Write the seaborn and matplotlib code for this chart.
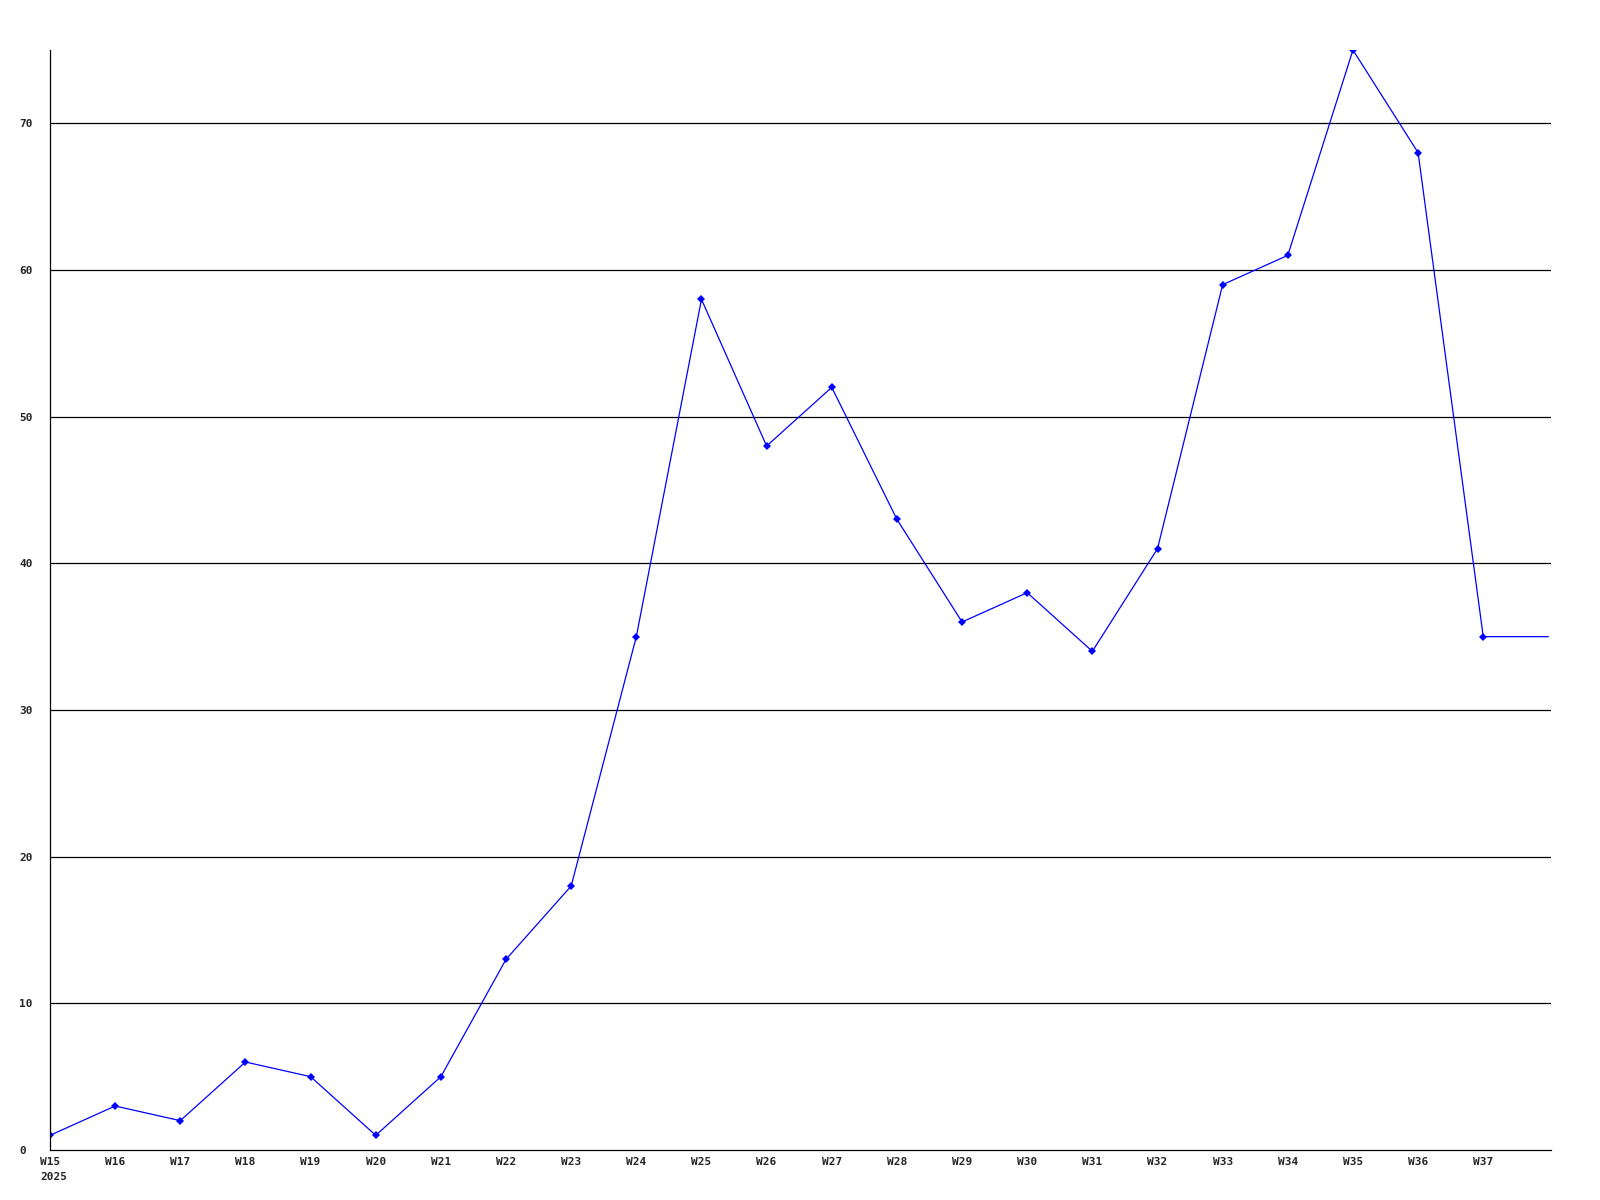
import pandas as pd
import matplotlib
matplotlib.use("Agg")
import matplotlib.pyplot as plt
import seaborn as sns

# weekly counts (W38 is the partial week running to the right edge)
weeks = [15, 16, 17, 18, 19, 20, 21, 22, 23, 24, 25, 26, 27, 28, 29, 30, 31,
         32, 33, 34, 35, 36, 37, 38]
counts = [1, 3, 2, 6, 5, 1, 5, 13, 18, 35, 58, 48, 52, 43, 36, 38, 34,
          41, 59, 61, 75, 68, 35, 35]
tick_weeks = weeks[:-1]
tick_labels = [f"W{w}" for w in tick_weeks]
year_label = "2025"
y_ticks = [0, 10, 20, 30, 40, 50, 60, 70]

df = pd.DataFrame({"week": weeks, "count": counts})

sns.set_style("white")
plt.rcParams["font.family"] = ["DejaVu Sans Mono"]
plt.rcParams["font.weight"] = "bold"

fig = plt.figure(figsize=(16, 12), dpi=100)
ax = fig.add_axes([50 / 1600, 50 / 1200, 1501 / 1600, 1100 / 1200])

sns.lineplot(data=df, x="week", y="count", ax=ax, color="#0000ff",
             linewidth=0.9, marker="D", markersize=3.6, markeredgewidth=0,
             markevery=list(range(len(weeks) - 1)))

ax.set_xlim(15, 38.04)
ax.set_ylim(0, 75)
ax.set_xticks(tick_weeks)
ax.set_xticklabels(tick_labels, fontsize=8, fontweight="bold", va="top",
                   ha="center")
ax.set_yticks(y_ticks)
ax.set_yticklabels([str(v) for v in y_ticks], fontsize=8, fontweight="bold",
                   ha="left")
ax.tick_params(axis="x", length=0, pad=5)
ax.tick_params(axis="y", length=0, pad=22)

# year under the first week, left-aligned with it
ax.annotate(year_label, xy=(tick_weeks[0], 0), xycoords=("data", "axes fraction"),
            xytext=(-7.2, -16), textcoords="offset points", ha="left", va="top",
            fontsize=8, fontweight="bold")

for v in y_ticks[1:]:
    ax.axhline(v, color="black", linewidth=0.9, zorder=0)

for side in ["top", "right"]:
    ax.spines[side].set_visible(False)
for side in ["left", "bottom"]:
    ax.spines[side].set_color("black")
    ax.spines[side].set_linewidth(0.9)

ax.set_xlabel("")
ax.set_ylabel("")

fig.savefig("out.png", dpi=100)
